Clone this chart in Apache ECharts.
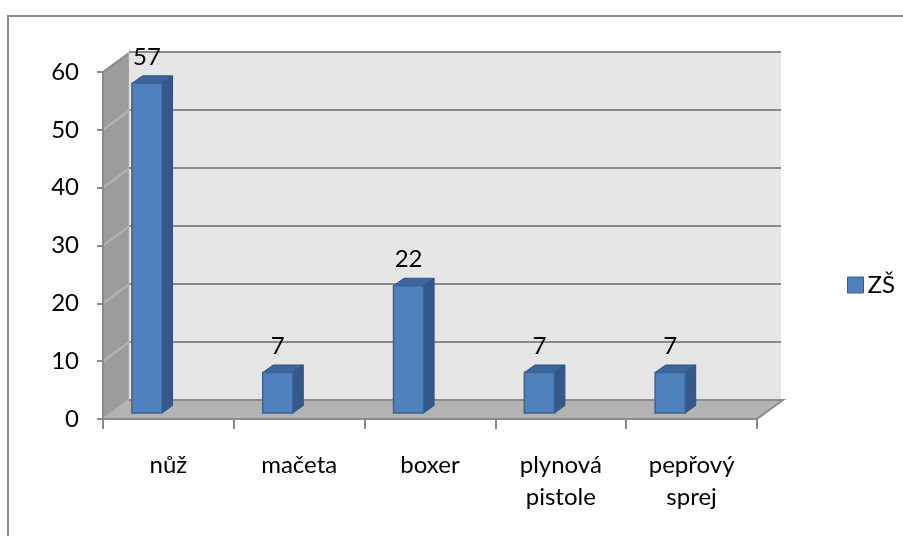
<!DOCTYPE html>
<html>
<head>
<meta charset="utf-8">
<script src="https://cdn.jsdelivr.net/npm/echarts@6/dist/echarts.min.js"></script>
<style>
  html, body { margin: 0; padding: 0; background: #fff; }
  #chart { width: 903px; height: 536px; }
</style>
</head>
<body>
<div id="chart"></div>
<script>
// Weapon categories and counts
const categories = ['nůž', 'mačeta', 'boxer', 'plynová\npistole', 'pepřový\nsprej'];
const seriesName = 'ZŠ';
const values = [57, 7, 22, 7, 7];
const yTicks = [0, 10, 20, 30, 40, 50, 60];

// Layout of the front plane and the back wall of the 3D box
const FRONT = { left: 103, top: 72, width: 654, height: 347 };
const BACK = { left: 129, top: 52, width: 652, height: 348 };
const DX = BACK.left - FRONT.left;                              // depth offset, x
const DY = (BACK.top + BACK.height) - (FRONT.top + FRONT.height); // depth offset, y

const FONT = 'Lato, "Open Sans", sans-serif';
const GRAY = '#8a8a8a';

const chart = echarts.init(document.getElementById('chart'), null, { renderer: 'canvas' });

// Side wall and floor of the 3D box
function renderWalls(params, api) {
  const cs = params.coordSys;
  const x0 = cs.x, x1 = cs.x + cs.width;
  const yTop = api.coord([0, yTicks[yTicks.length - 1]])[1];
  const yBot = api.coord([0, 0])[1];
  const children = [];
  // left side wall
  children.push({
    type: 'polygon',
    shape: { points: [[x0, yTop], [x0 + DX, yTop + DY], [x0 + DX, yBot + DY], [x0, yBot]] },
    style: { fill: '#9c9c9c', stroke: null }
  });
  // diagonal grid lines on the side wall
  yTicks.forEach(function (t) {
    const y = api.coord([0, t])[1];
    children.push({
      type: 'line',
      shape: { x1: x0, y1: y, x2: x0 + DX, y2: y + DY },
      style: { stroke: t === yTicks[yTicks.length - 1] ? GRAY : '#b4b4b4', lineWidth: 2 }
    });
  });
  // floor
  children.push({
    type: 'polygon',
    shape: { points: [[x0, yBot], [x0 + DX, yBot + DY], [x1 + DX, yBot + DY], [x1, yBot]] },
    style: { fill: '#b3b3b3', stroke: null }
  });
  children.push({
    type: 'polyline',
    shape: { points: [[x0 + DX, yBot + DY], [x1 + DX, yBot + DY], [x1, yBot]] },
    style: { stroke: GRAY, lineWidth: 2, fill: null }
  });
  // corner edge between back wall and side wall
  children.push({
    type: 'line',
    shape: { x1: x0 + DX, y1: yTop + DY, x2: x0 + DX, y2: yBot + DY },
    style: { stroke: '#c8c8c8', lineWidth: 1, lineDash: [2, 2] }
  });
  return { type: 'group', children: children };
}

// 3D column: front face, right side, top, with value label
function renderBar(params, api) {
  const idx = api.value(0);
  const v = api.value(1);
  const band = api.size([1, 0])[0];
  const c = api.coord([idx, 0])[0];
  const w = band * 0.23;
  const x0 = c - band * 0.279;
  const x1 = x0 + w;
  const shiftY = -6;
  const bdx = 10.5, bdy = -7.5;
  const yb = api.coord([idx, 0])[1] + shiftY;
  const yt = api.coord([idx, v])[1] + shiftY;
  const edge = '#2f5283';
  return {
    type: 'group',
    children: [
      {
        type: 'polygon',
        shape: { points: [[x1, yt], [x1 + bdx, yt + bdy], [x1 + bdx, yb + bdy], [x1, yb]] },
        style: { fill: '#36598a', stroke: edge, lineWidth: 1 }
      },
      {
        type: 'polygon',
        shape: { points: [[x0, yt], [x0 + bdx, yt + bdy], [x1 + bdx, yt + bdy], [x1, yt]] },
        style: { fill: '#3d679c', stroke: edge, lineWidth: 1 }
      },
      {
        type: 'rect',
        shape: { x: x0, y: yt, width: w, height: yb - yt },
        style: { fill: '#4f81bd', stroke: '#3a649a', lineWidth: 1.5 }
      },
      {
        type: 'text',
        x: (x0 + x1) / 2,
        y: yt + bdy - 19,
        style: {
          text: String(v), fill: '#000', font: '24px ' + FONT,
          textAlign: 'center', textVerticalAlign: 'middle'
        }
      }
    ]
  };
}

const option = {
  animation: false,
  backgroundColor: '#fff',
  textStyle: { fontFamily: FONT },
  graphic: [{
    type: 'rect', silent: true, z: 100,
    shape: { x: 8, y: 16, width: 1000, height: 600 },
    style: { fill: null, stroke: '#8c8c8c', lineWidth: 2 }
  }],
  legend: {
    data: [{ name: seriesName, icon: 'rect',
      itemStyle: { color: '#4f81bd', borderColor: '#385d8a', borderWidth: 1 } }],
    left: 842, top: 268,
    itemWidth: 16, itemHeight: 16, itemGap: 5,
    textStyle: { fontSize: 24, color: '#000', fontFamily: FONT, padding: [0, 0, 0, -1] }
  },
  grid: [
    { left: FRONT.left, top: FRONT.top, width: FRONT.width, height: FRONT.height },
    { left: BACK.left, top: BACK.top, width: BACK.width, height: BACK.height,
      show: true, backgroundColor: '#e6e6e6', borderWidth: 0 }
  ],
  xAxis: [
    {
      type: 'category', gridIndex: 0, data: categories, boundaryGap: true,
      axisLine: { show: true, lineStyle: { color: GRAY, width: 2 } },
      axisTick: { show: true, length: 10, lineStyle: { color: GRAY, width: 2 }, interval: 0 },
      axisLabel: { interval: 0, fontSize: 24, color: '#000', margin: 30, lineHeight: 32, fontFamily: FONT },
      splitLine: { show: false }, z: 3
    },
    {
      type: 'category', gridIndex: 1, data: categories,
      axisLine: { show: false }, axisTick: { show: false }, axisLabel: { show: false },
      splitLine: { show: false }
    }
  ],
  yAxis: [
    {
      type: 'value', gridIndex: 0, min: 0, max: 60, interval: 10,
      axisLine: { show: true, lineStyle: { color: GRAY, width: 2 } },
      axisTick: { show: true, length: 6, lineStyle: { color: GRAY, width: 2 } },
      axisLabel: { fontSize: 24, color: '#000', margin: 24, fontFamily: FONT },
      splitLine: { show: false }, z: 3
    },
    {
      type: 'value', gridIndex: 1, min: 0, max: 60, interval: 10,
      axisLine: { show: false }, axisTick: { show: false }, axisLabel: { show: false },
      splitLine: { show: true, lineStyle: { color: GRAY, width: 2 } }
    }
  ],
  series: [
    {
      type: 'custom', name: '_walls', xAxisIndex: 0, yAxisIndex: 0, z: 1,
      silent: true, renderItem: renderWalls, data: [[0, 0]]
    },
    {
      type: 'custom', name: seriesName, xAxisIndex: 0, yAxisIndex: 0, z: 5,
      itemStyle: { color: '#4f81bd' },
      renderItem: renderBar,
      encode: { x: 0, y: 1 },
      data: values.map(function (v, i) { return [i, v]; })
    }
  ]
};

chart.setOption(option);
</script>
</body>
</html>
